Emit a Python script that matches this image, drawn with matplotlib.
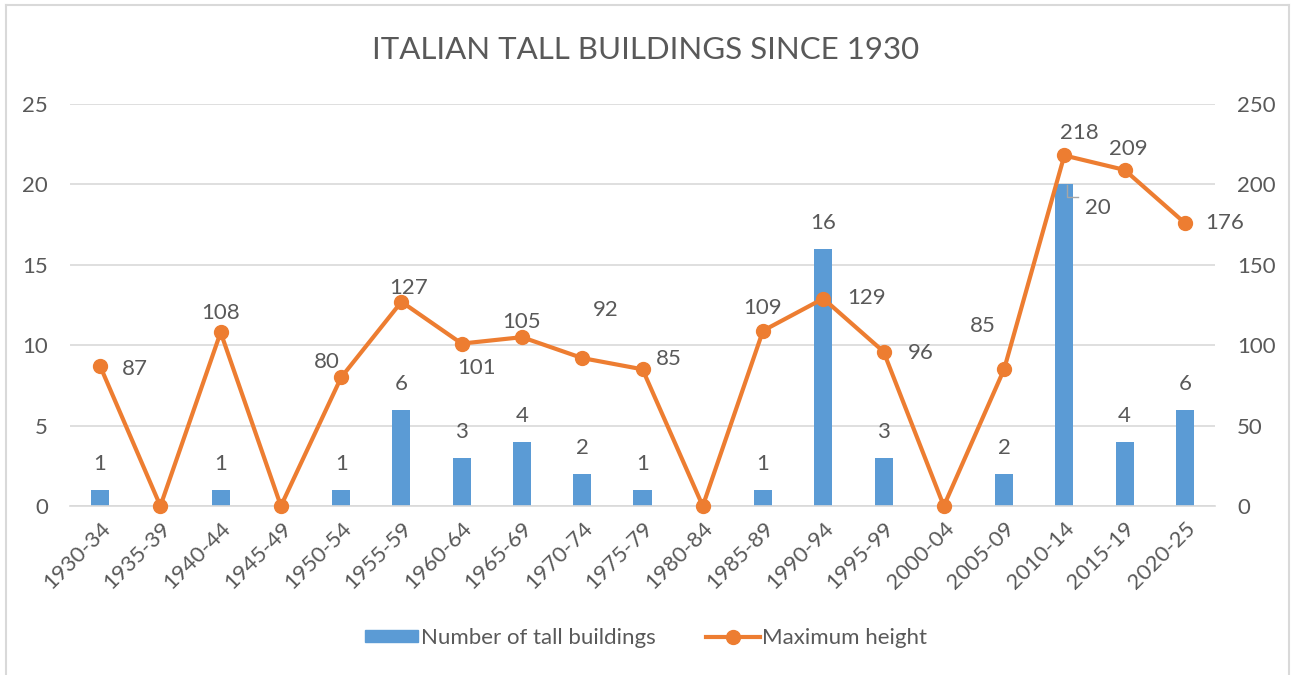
import numpy as np
import matplotlib.pyplot as plt
from matplotlib.lines import Line2D

plt.rcParams['font.family'] = ['Lato', 'DejaVu Sans']

periods = ["1930-34", "1935-39", "1940-44", "1945-49", "1950-54", "1955-59",
           "1960-64", "1965-69", "1970-74", "1975-79", "1980-84", "1985-89",
           "1990-94", "1995-99", "2000-04", "2005-09", "2010-14", "2015-19",
           "2020-25"]
num_buildings = [1, 0, 1, 0, 1, 6, 3, 4, 2, 1, 0, 1, 16, 3, 0, 2, 20, 4, 6]
max_height = [87, 0, 108, 0, 80, 127, 101, 105, 92, 85, 0, 109, 129, 96, 0, 85, 218, 209, 176]

# pixel offsets for the height labels (Excel had them hand-placed)
height_offsets = [(35, -3), None, (0, 19), None, (-14, 15), (7, 14), (15, -24),
                  (0, 15), (24, 48), (26, 10), None, (-1, 23), (43, 1), (37, -1),
                  None, (-21, 43), (15, 22), (4, 21), (40, 0)]

blue = "#5B9BD5"
orange = "#ED7D31"
grey_text = "#595959"
grid_col = "#D9D9D9"
fs = 16

fig = plt.figure(figsize=(12.92, 6.75), dpi=100)
ax = fig.add_axes([70 / 1292, 1 - 506 / 675, 1145 / 1292, 402 / 675])
ax2 = ax.twinx()

x = np.arange(len(periods))
ax.bar(x, num_buildings, width=0.3, color=blue, zorder=2)
ax2.plot(x, max_height, color=orange, lw=3, marker="o", ms=10, zorder=3,
         clip_on=False)

ax.set_xlim(-0.5, len(periods) - 0.5)
ax.set_ylim(0, 25)
ax2.set_ylim(0, 250)
ax.set_yticks(range(0, 26, 5))
ax2.set_yticks(range(0, 251, 50))
ax.yaxis.grid(True, color=grid_col, lw=1.2, zorder=0)
ax.set_axisbelow(True)
ax.set_zorder(ax2.get_zorder() - 1)
ax.patch.set_visible(False)

for a in (ax, ax2):
    for s in a.spines.values():
        s.set_visible(False)
    a.tick_params(length=0, labelsize=fs, labelcolor=grey_text)
ax.spines['bottom'].set_visible(True)
ax.spines['bottom'].set_color(grid_col)
ax.spines['bottom'].set_linewidth(1.2)
ax.tick_params(axis='y', pad=16)
ax2.tick_params(axis='y', pad=16)

ax.set_xticks(x)
ax.set_xticklabels(periods, rotation=45, ha='right', rotation_mode='anchor')
ax.tick_params(axis='x', pad=9)

# bar labels
for i, v in enumerate(num_buildings):
    if v == 0:
        continue
    if v == 20:
        ax.annotate(str(v), (i, v), xytext=(34, -24), textcoords='offset pixels',
                    ha='center', va='center', fontsize=fs, color=grey_text)
        ax.plot([i + 0.05, i + 0.05, i + 0.22], [v - 0.05, v - 0.8, v - 0.8],
                color="#A6A6A6", lw=1, zorder=4)
        continue
    ax.annotate(str(v), (i, v), xytext=(0, 26), textcoords='offset pixels',
                ha='center', va='center', fontsize=fs, color=grey_text)

# height labels
for i, v in enumerate(max_height):
    off = height_offsets[i]
    if off is None:
        continue
    ax2.annotate(str(v), (i, v), xytext=(off[0], off[1]),
                 textcoords='offset pixels', ha='center', va='center',
                 fontsize=fs, color=grey_text, zorder=4)

fig.text(0.5, 1 - 50 / 675, "ITALIAN TALL BUILDINGS SINCE 1930", ha='center',
         va='center', fontsize=22.5, color=grey_text)

handles = [plt.Rectangle((0, 0), 1, 1, color=blue),
           Line2D([], [], color=orange, lw=3, marker='o', ms=10)]
fig.legend(handles, ["Number of tall buildings", "Maximum height"],
           loc='center', bbox_to_anchor=(0.5, 1 - 638 / 675), ncol=2,
           frameon=False, fontsize=fs, labelcolor=grey_text,
           handlelength=2.4, handleheight=0.5, handletextpad=0.1,
           columnspacing=2.3)

# chart border
for xs, ys in [([6, 6], [0, 670]), ([6, 1289], [670, 670]), ([1289, 1289], [0, 670])]:
    fig.add_artist(Line2D([v / 1292 for v in xs], [v / 675 for v in ys],
                          color=grid_col, lw=1.5))

fig.savefig("out.png", dpi=100)
